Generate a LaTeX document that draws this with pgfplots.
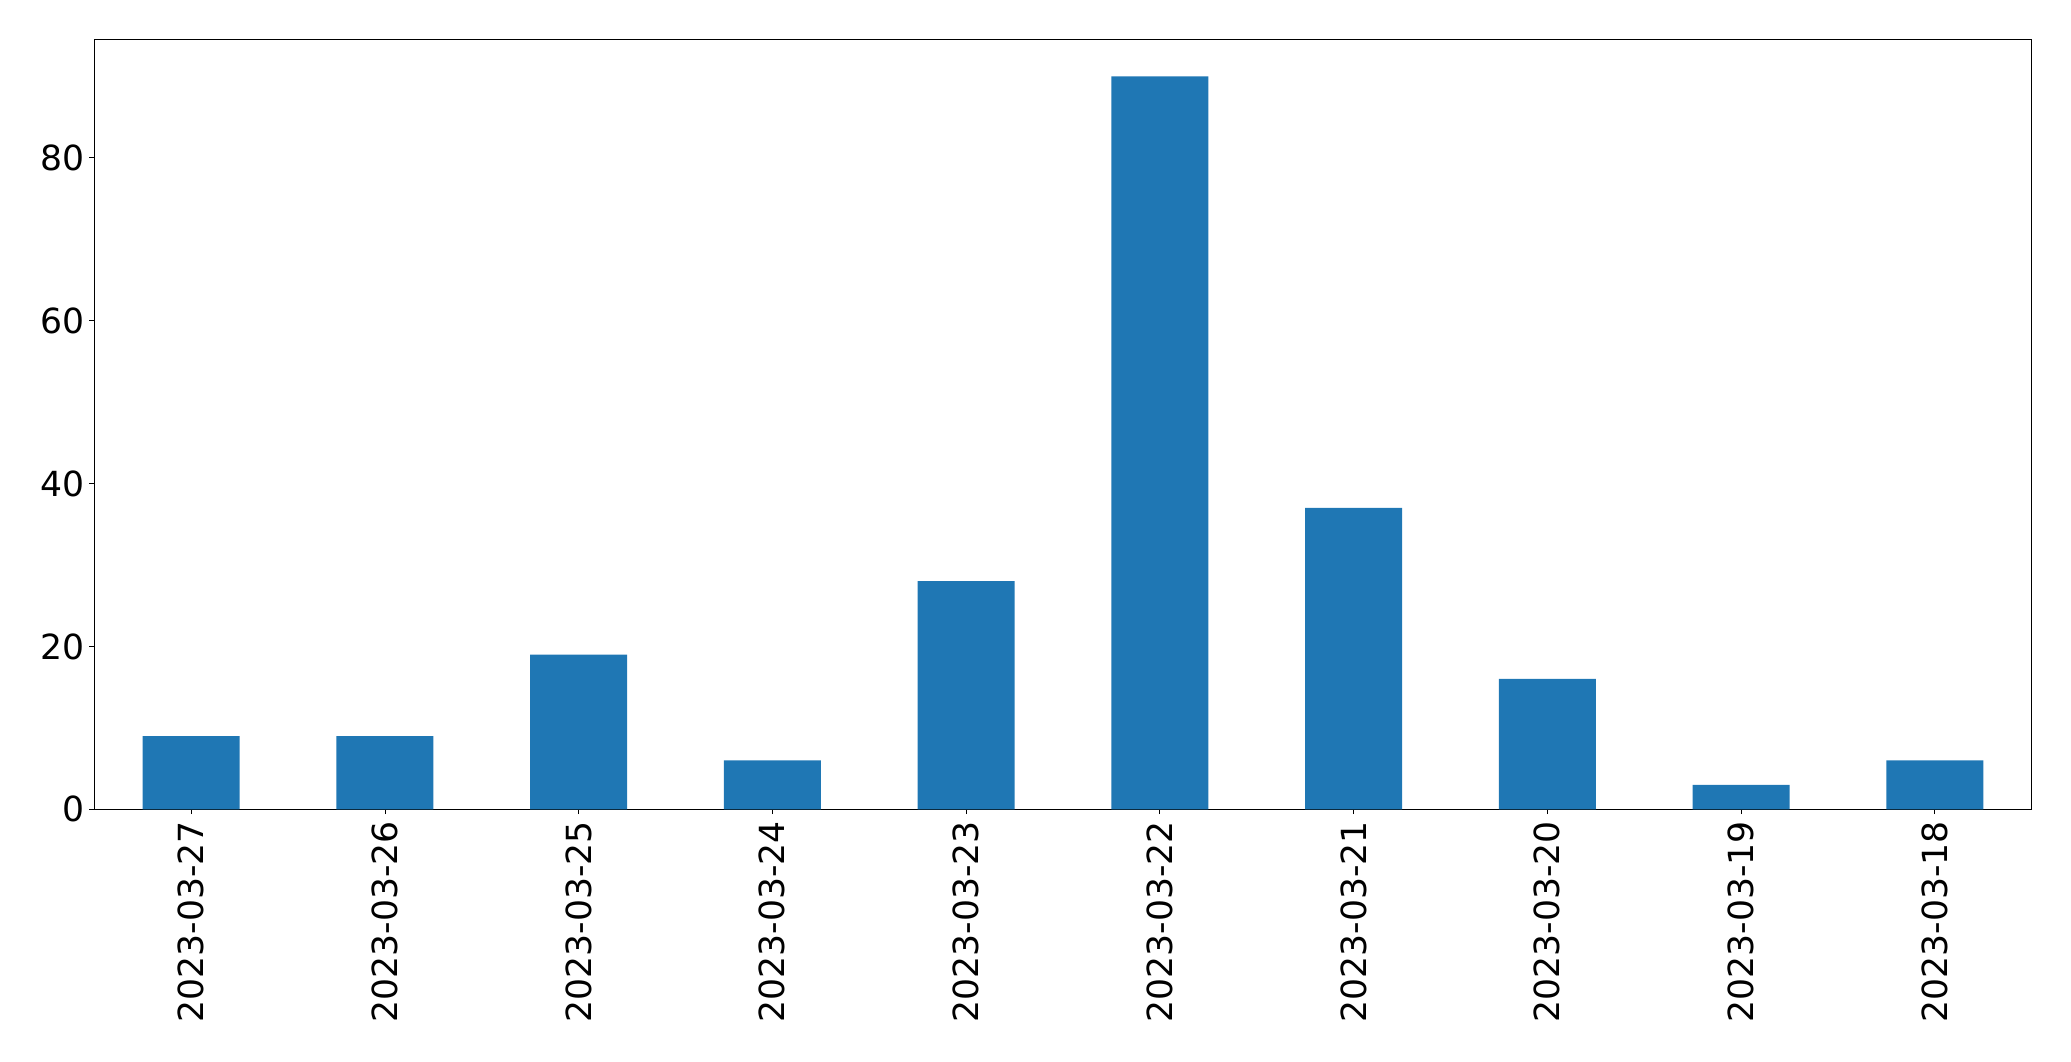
\documentclass[border=0pt]{standalone}
\usepackage{fontspec}
\setmainfont{DejaVu Sans}
\usepackage{pgfplots}
\pgfplotsset{compat=1.18}
\definecolor{mplblue}{HTML}{1F77B4}
\begin{document}
\begin{tikzpicture}
\useasboundingbox (-47.15pt,-125.85pt) rectangle (988.35pt,404.65pt);
\begin{axis}[
  at={(0pt,0pt)}, anchor=south west,
  scale only axis,
  width=968.7pt, height=384.85pt,
  xmin=-0.5, xmax=9.5, ymin=0, ymax=94.5,
  xtick={0,...,9},
  xticklabels={2023-03-27,2023-03-26,2023-03-25,2023-03-24,2023-03-23,2023-03-22,2023-03-21,2023-03-20,2023-03-19,2023-03-18},
  ytick={0,20,40,60,80},
  /pgf/number format/assume math mode=true,
  tick label style={font=\fontsize{17.3}{20}\selectfont, text=black},
  xticklabel style={rotate=90, anchor=east, inner sep=0pt, outer sep=0pt},
  yticklabel style={inner sep=0pt, outer sep=0pt},
  xticklabel shift=3.4pt, yticklabel shift=2.6pt,
  tick align=outside, tick pos=left,
  major tick length=2.43pt,
  every tick/.style={black, line width=0.4pt},
  axis line style={black, line width=0.4pt},
  ybar, bar width=0.5, bar shift=0pt,
]
\addplot[fill=mplblue, draw=none] coordinates {
(0,9) (1,9) (2,19) (3,6) (4,28) (5,90) (6,37) (7,16) (8,3) (9,6)
};
\end{axis}
\end{tikzpicture}
\end{document}
